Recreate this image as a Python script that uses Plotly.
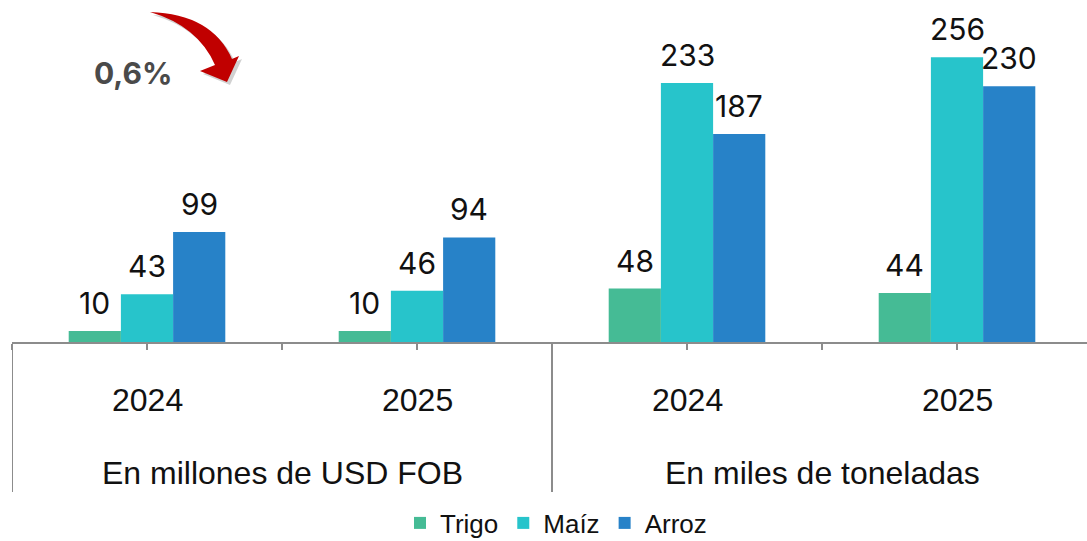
import plotly.graph_objects as go

# values
groups = ["En millones de USD FOB", "En miles de toneladas"]
years = ["2024", "2025", "2024", "2025"]
trigo = [10, 10, 48, 44]
maiz = [43, 46, 233, 256]
arroz = [99, 94, 187, 230]
series = [("Trigo", trigo, "#45BB95"), ("Maíz", maiz, "#27C4CB"), ("Arroz", arroz, "#2782C8")]
change_label = "0,6%"

W, H = 1087, 541
ML, MT, MB = 12, 0, 199
PW, PH = W - ML, H - MT - MB
GRAY = "#8c8c8c"
BARGAP = 0.42
LABEL_FONT = "Inter, Noto Sans, sans-serif"
AXIS_FONT = "Liberation Sans, Arial, sans-serif"


def px(x, y):
    """Pixel position -> paper coordinates."""
    return (x - ML) / PW, (H - MB - y) / PH


cats = list(range(len(years)))
fig = go.Figure()
for name, vals, color in series:
    fig.add_trace(go.Bar(x=cats, y=vals, name=name, marker=dict(color=color, line=dict(width=0))))

# value labels above each bar
step = (1 - BARGAP) / len(series)
annotations = []
for k, (name, vals, color) in enumerate(series):
    off = (k - (len(series) - 1) / 2) * step
    for i, v in enumerate(vals):
        annotations.append(dict(x=i + off, y=v, xref="x", yref="y", text=str(v), showarrow=False,
                                yanchor="bottom", yshift=8,
                                font=dict(family=LABEL_FONT, size=30, color="#111")))

# category labels
for i, yr in enumerate(years):
    annotations.append(dict(x=i, y=px(0, 400)[1], xref="x", yref="paper", text=yr, showarrow=False,
                            yanchor="middle", font=dict(family=AXIS_FONT, size=32, color="#111")))
for g, name in enumerate(groups):
    annotations.append(dict(x=2 * g + 0.5, y=px(0, 473)[1], xref="x", yref="paper", text=name,
                            showarrow=False, yanchor="middle",
                            font=dict(family=AXIS_FONT, size=32, color="#111")))

# percentage callout
cx, cy = px(133, 73)
annotations.append(dict(x=cx, y=cy, xref="paper", yref="paper", xanchor="center", yanchor="middle",
                        text="<b>" + change_label + "</b>", showarrow=False,
                        font=dict(family=LABEL_FONT, size=30, color="#4a4a4a")))


def path(points, dx=0, dy=0):
    out = []
    for cmd, pts in points:
        coords = " ".join("%.5f,%.5f" % px(x + dx, y + dy) for x, y in pts)
        out.append(cmd + " " + coords)
    return " ".join(out) + " Z"


arrow = [("M", [(150, 12)]), ("Q", [(212, 14), (232, 59)]), ("L", [(239, 56)]), ("L", [(227, 82)]),
         ("L", [(200, 71)]), ("L", [(215, 65)]), ("Q", [(198, 26), (150, 12)])]

shapes = [
    dict(type="path", xref="paper", yref="paper", path=path(arrow, 3, 3),
         fillcolor="rgba(0,0,0,0.18)", line=dict(width=0)),
    dict(type="path", xref="paper", yref="paper", path=path(arrow),
         fillcolor="#C00000", line=dict(width=0)),
]
# group dividers below the axis
for xv in (-0.5, 1.5):
    shapes.append(dict(type="line", xref="x", yref="paper", x0=xv, x1=xv, y0=0, y1=px(0, 492)[1],
                       line=dict(color=GRAY, width=2)))

fig.update_layout(
    width=W, height=H,
    margin=dict(l=ML, r=0, t=MT, b=MB, autoexpand=False),
    paper_bgcolor="white", plot_bgcolor="white",
    barmode="group", bargap=BARGAP, bargroupgap=0,
    showlegend=True,
    legend=dict(orientation="h", x=px(556, 0)[0], xanchor="center", y=px(0, 523)[1], yanchor="middle",
                font=dict(family=AXIS_FONT, size=26, color="#111"), itemwidth=30),
    xaxis=dict(range=[-0.5, -0.5 + PW / 270], showgrid=False, zeroline=False,
               showline=True, linecolor=GRAY, linewidth=2,
               ticks="outside", ticklen=6, tickwidth=2, tickcolor=GRAY,
               tick0=-0.5, dtick=0.5, showticklabels=False),
    yaxis=dict(range=[0, 342 / 1.112], visible=False),
    annotations=annotations,
    shapes=shapes,
)

# drop the browser's default 8px body margin so the figure sits at the page corner
fig.write_html("out.html", config={"displayModeBar": False},
               post_script="document.body.style.margin = '0';")
